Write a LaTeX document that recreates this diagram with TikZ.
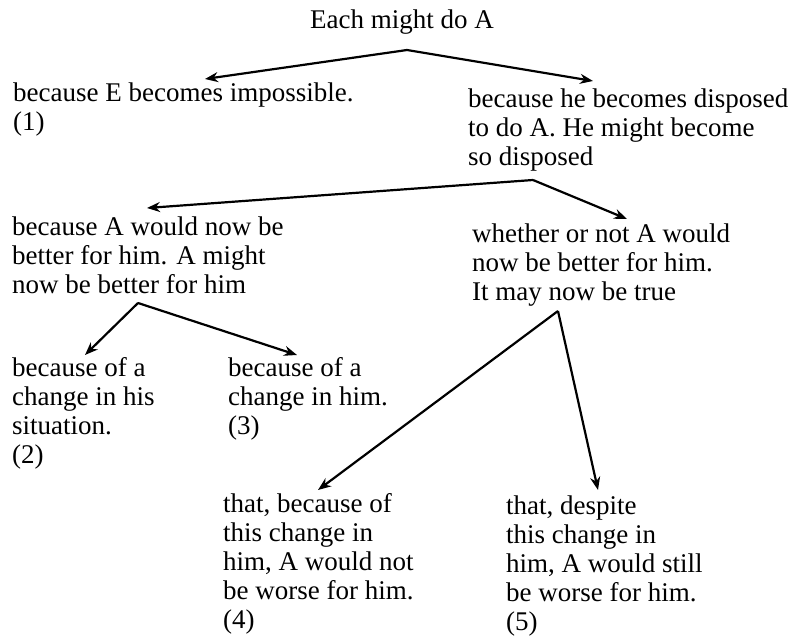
\documentclass[tikz,border=0pt]{standalone}
\usepackage{fontspec}
\setmainfont{Liberation Serif}
\usetikzlibrary{arrows.meta}
\begin{document}
\begin{tikzpicture}[x=1pt,y=-1pt,
  txt/.style={anchor=base west,inner sep=0pt,align=left,font=\fontsize{27}{29}\selectfont},
  arr/.style={line width=2.2pt,-{Stealth[length=13pt,width=10pt]}}]
\useasboundingbox (0,0) rectangle (793,642);
% anchors are the baselines of the last line of each text
\node[txt] (top) at (310,29) {Each might do A};
\node[txt] (n1) at (13,131) {because E becomes impossible.\\(1)};
\node[txt] (n2) at (468,165) {because he becomes disposed\\to do A. He might become\\so disposed};
\node[txt] (n3) at (12,293) {because A would now be\\better for him. A might\\now be better for him};
\node[txt] (n4) at (472,300) {whether or not A would\\now be better for him.\\It may now be true};
\node[txt] (n5) at (12,463) {because of a\\change in his\\situation.\\(2)};
\node[txt] (n6) at (228,434) {because of a\\change in him.\\(3)};
\node[txt] (n7) at (223,628) {that, because of\\this change in\\him, A would not\\be worse for him.\\(4)};
\node[txt] (n8) at (506,630) {that, despite\\this change in\\him, A would still\\be worse for him.\\(5)};
\coordinate (j0) at (407,50);
\coordinate (t1) at (205,79);
\coordinate (t2) at (593,81);
\coordinate (j1) at (533,180);
\coordinate (t3) at (147,208);
\coordinate (t4) at (627,219);
\coordinate (j2) at (138,303);
\coordinate (t5) at (85,355);
\coordinate (t6) at (297,355);
\coordinate (j3) at (558,311);
\coordinate (t7) at (318,490);
\coordinate (t8) at (598,490);
\draw[arr] (j0) -- (t1);
\draw[arr] (j0) -- (t2);
\draw[arr] (j1) -- (t3);
\draw[arr] (j1) -- (t4);
\draw[arr] (j2) -- (t5);
\draw[arr] (j2) -- (t6);
\draw[arr] (j3) -- (t7);
\draw[arr] (j3) -- (t8);
\end{tikzpicture}
\end{document}
